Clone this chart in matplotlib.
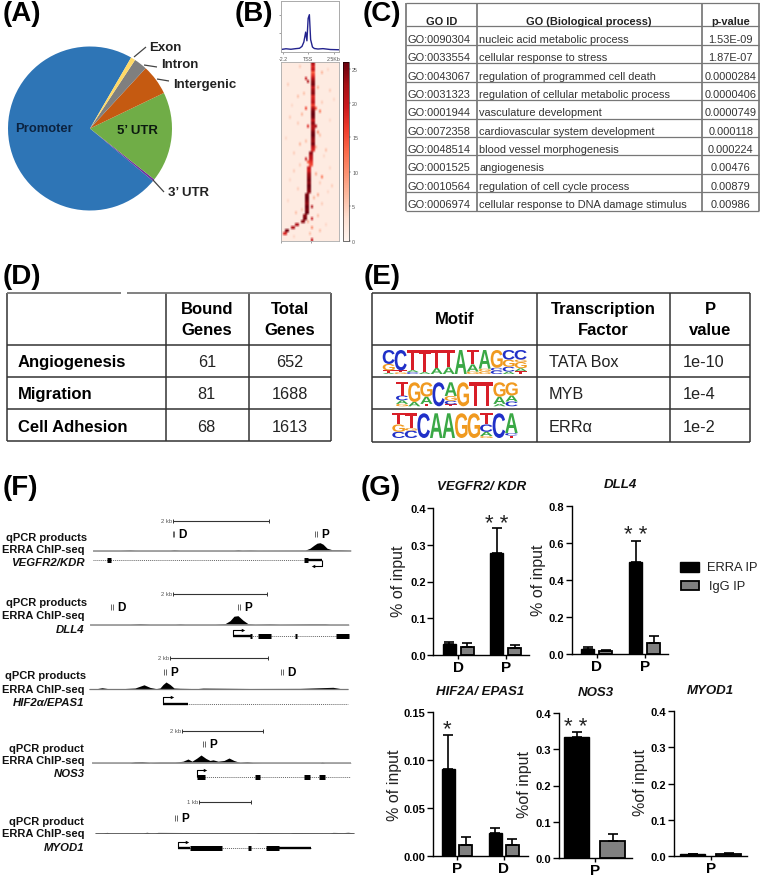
import numpy as np
import matplotlib
matplotlib.use("Agg")
import matplotlib.pyplot as plt
from matplotlib.textpath import TextPath
from matplotlib.patches import PathPatch
from matplotlib.font_manager import FontProperties
from matplotlib.transforms import Affine2D

plt.rcParams['font.family'] = ['Liberation Sans', 'DejaVu Sans']
W, H = 760, 878

# ---------- data ----------
pie_labels = ['Promoter', "3\u2019 UTR", "5\u2019 UTR", 'Intergenic', 'Intron', 'Exon']
pie_values = [72.3, 0.4, 17.8, 6.0, 2.6, 0.9]
pie_colors = ['#2e75b6', '#7030a0', '#70ad47', '#c55a11', '#7f7f7f', '#ffd966']

profile_pos = [-2.2, -1.8, -1.4, -1.0, -0.7, -0.5, -0.35, -0.2, -0.1, 0.0, 0.1, 0.2, 0.35, 0.5, 0.8, 1.2, 1.8, 2.5]
profile_val = [2.0, 2.6, 2.2, 2.7, 3.0, 4.5, 8.0, 16.0, 9.0, 27.0, 30.0, 10.0, 4.0, 2.8, 2.4, 2.7, 2.0, 1.8]

heat_peak_col = [15, 15, 15, 15, 15, 15, 15, 15, 15, 15, 15, 15, 15, 15, 15, 15, 15, 15, 15, 15,
                 15, 15, 15, 15, 15, 15, 15, 15, 15, 15, 14, 14, 14, 14, 14, 13, 13, 13, 13, 13,
                 13, 13, 13, 13, 12, 12, 12, 12, 12, 12, 12, 11, 11, 10, 7, 5, 2, 1, -1, -1]
heat_peak_val = [22, 18, 20, 14, 17, 21, 24, 25, 20, 23, 24, 18, 19, 21, 16, 22, 25, 26, 25, 20,
                 24, 21, 22, 25, 26, 24, 23, 25, 20, 18, 24, 21, 20, 17, 15, 20, 19, 23, 24, 25,
                 24, 26, 25, 24, 25, 26, 25, 24, 26, 25, 26, 24, 25, 24, 22, 22, 25, 18, 0, 0]
heat_spots_row = [5, 6, 15, 15, 16, 21, 21, 22, 23, 32, 33, 38, 48, 52, 59, 3, 11, 27, 44, 55, 9, 18, 29, 36, 41, 50, 57,
                  1, 2, 7, 8, 10, 12, 13, 14, 17, 19, 20, 24, 25, 26, 28, 30, 31, 34, 35, 37, 39, 40, 42, 43, 45, 46, 47, 49, 51, 53, 54, 56, 58]
heat_spots_col = [12, 13, 17, 12, 19, 17, 13, 16, 18, 12, 13, 20, 15, 15, 15, 20, 8, 9, 18, 15, 24, 4, 22, 6, 25, 7, 14,
                  9, 23, 3, 18, 11, 26, 20, 5, 10, 24, 8, 19, 2, 12, 17, 6, 21, 9, 24, 17, 4, 19, 8, 23, 16, 3, 20, 10, 18, 13, 22, 19, 6]
heat_spots_val = [20, 22, 14, 16, 12, 22, 18, 16, 10, 20, 14, 12, 22, 20, 20, 7, 6, 7, 8, 10, 5, 5, 6, 5, 5, 6, 6,
                  5, 4, 5, 7, 6, 4, 5, 4, 7, 4, 5, 6, 4, 6, 7, 5, 4, 5, 4, 8, 4, 5, 5, 4, 7, 4, 5, 5, 6, 7, 4, 6, 4]
cbar_ticks = [0, 5, 10, 15, 20, 25]

go_header = ['GO ID', 'GO (Biological process)', 'p-value']
go_ids = ['GO:0090304', 'GO:0033554', 'GO:0043067', 'GO:0031323', 'GO:0001944',
          'GO:0072358', 'GO:0048514', 'GO:0001525', 'GO:0010564', 'GO:0006974']
go_terms = ['nucleic acid metabolic process', 'cellular response to stress',
            'regulation of programmed cell death', 'regulation of cellular metabolic process',
            'vasculature development', 'cardiovascular system development',
            'blood vessel morphogenesis', 'angiogenesis', 'regulation of cell cycle process',
            'cellular response to DNA damage stimulus']
go_pvals = ['1.53E-09', '1.87E-07', '0.0000284', '0.0000406', '0.0000749',
            '0.000118', '0.000224', '0.00476', '0.00879', '0.00986']

d_rows = ['Angiogenesis', 'Migration', 'Cell Adhesion']
d_bound = ['61', '81', '68']
d_total = ['652', '1688', '1613']
e_tf = ['TATA Box', 'MYB', 'ERR\u03b1']
e_p = ['1e-10', '1e-4', '1e-2']

motif_tata = [[('A', .05), ('T', .1), ('G', .27), ('C', .58)], [('G', .07), ('T', .08), ('C', .85)],
              [('C', .08), ('A', .08), ('T', .84)], [('A', .08), ('T', .92)], [('A', .25), ('T', .75)],
              [('A', .28), ('T', .72)], [('A', 1.0)], [('G', .1), ('A', .3), ('T', .6)],
              [('G', .1), ('G', .12), ('A', .78)], [('C', .14), ('C', .12), ('G', .74)],
              [('A', .1), ('C', .2), ('G', .3), ('C', .4)], [('T', .12), ('A', .12), ('G', .26), ('G', .1), ('C', .4)]]
motif_myb = [[('G', .1), ('A', .15), ('C', .2), ('T', .55)], [('A', .18), ('G', .82)],
             [('T', .1), ('A', .3), ('G', .6)], [('C', 1.0)], [('T', .08), ('C', .15), ('G', .2), ('A', .57)],
             [('G', 1.0)], [('T', 1.0)], [('T', 1.0)],
             [('A', .1), ('A', .3), ('G', .6)], [('C', .2), ('A', .25), ('G', .55)]]
motif_err = [[('C', .25), ('G', .3), ('T', .45)], [('C', .3), ('G', .1), ('T', .6)],
             [('C', 1.0)], [('A', 1.0)], [('A', 1.0)], [('G', 1.0)], [('G', 1.0)],
             [('G', .08), ('A', .17), ('C', .3), ('T', .45)], [('C', 1.0)], [('T', .1), ('C', .1), ('A', .8)]]
motif_colors = {'A': '#3aa845', 'C': '#2030c8', 'G': '#f09a20', 'T': '#d81e28'}

vegfr_pos = [93, 120, 130, 135, 140, 170, 174, 180, 234, 238, 242, 250, 258, 305, 310, 314, 317, 320, 323, 327, 332, 340, 351]
vegfr_sig = [0.3, 0.3, 0.8, 0.4, 0.3, 0.3, 0.9, 0.3, 0.3, 0.9, 0.3, 0.6, 0.3, 0.5, 2.5, 5.5, 7.5, 8.0, 6.5, 2.5, 1.0, 1.0, 0.4]
dll4_pos = [90, 130, 140, 150, 175, 180, 185, 215, 225, 230, 234, 238, 243, 248, 255, 270, 280, 310, 325, 330, 349]
dll4_sig = [0.3, 0.3, 1.0, 0.3, 0.3, 0.7, 0.3, 0.3, 1.0, 4.0, 8.5, 9.0, 4.5, 1.0, 0.3, 0.8, 0.3, 0.8, 0.8, 0.3, 0.3]
hif_pos = [89, 97, 102, 108, 125, 135, 144, 150, 156, 160, 163, 166, 170, 174, 180, 197, 203, 250, 300, 333, 340, 348]
hif_sig = [0.3, 0.4, 1.3, 0.4, 0.5, 1.0, 4.2, 1.6, 0.4, 1.0, 4.5, 7.0, 4.5, 1.0, 0.7, 0.4, 0.9, 0.5, 0.6, 1.7, 0.5, 0.3]
nos3_pos = [92, 130, 135, 142, 150, 160, 175, 183, 188, 192, 197, 201, 206, 210, 213, 218, 224, 229, 234, 240, 247, 253, 262, 320, 322, 325, 351]
nos3_sig = [0.2, 0.2, 1.2, 1.5, 0.3, 0.8, 0.8, 1.8, 4.0, 1.8, 5.0, 8.0, 4.5, 2.5, 3.2, 1.8, 2.5, 5.0, 2.5, 0.5, 1.4, 0.4, 0.2, 0.2, 0.8, 0.2, 0.2]
myod_pos = [95, 103, 107, 110, 143, 147, 150, 155, 158, 255, 258, 290, 293, 330, 333, 343, 348, 354]
myod_sig = [0.2, 0.2, 0.6, 0.2, 0.2, 0.7, 0.2, 0.2, 0.6, 0.2, 0.5, 0.2, 0.5, 0.2, 0.6, 0.4, 0.7, 0.2]

vegfr_erra, vegfr_erra_err = [0.028, 0.277], [0.008, 0.068]
vegfr_igg, vegfr_igg_err = [0.021, 0.019], [0.011, 0.008]
dll4_erra, dll4_erra_err = [0.025, 0.498], [0.013, 0.112]
dll4_igg, dll4_igg_err = [0.014, 0.062], [0.008, 0.033]
hif_erra, hif_erra_err = [0.091, 0.024], [0.035, 0.005]
hif_igg, hif_igg_err = [0.012, 0.012], [0.008, 0.006]
nos3_erra, nos3_erra_err = [0.335], [0.012]
nos3_igg, nos3_igg_err = [0.046], [0.019]
myod_erra, myod_erra_err = [0.005], [0.001]
myod_igg, myod_igg_err = [0.006], [0.001]

# ---------- helpers ----------
fig = plt.figure(figsize=(W / 100, H / 100), dpi=100, facecolor='white')


def ax_px(x0, y0, x1, y1, **kw):
    return fig.add_axes([x0 / W, 1 - y1 / H, (x1 - x0) / W, (y1 - y0) / H], **kw)


ov = ax_px(0, 0, W, H)
ov.set_xlim(0, W)
ov.set_ylim(H, 0)
ov.axis('off')
ov.set_zorder(10)


def T(x, y, s, size=10, ha='left', weight='normal', style='normal', color='black', **kw):
    ov.text(x, y, s, fontsize=size, ha=ha, va='center', fontweight=weight, fontstyle=style,
            color=color, **kw)


def L(xs, ys, color='black', lw=1.0, **kw):
    ov.plot(xs, ys, color=color, lw=lw, solid_capstyle='butt', **kw)


# panel letters
for x, y, s in [(3, 14, '(A)'), (235, 14, '(B)'), (363, 14, '(C)'), (3, 277, '(D)'),
                (364, 277, '(E)'), (3, 488, '(F)'), (361, 488, '(G)')]:
    T(x, y, s, size=20, weight='bold')

# ---------- A pie ----------
axp = ax_px(8, 47.5, 172, 211.5)
axp.pie(pie_values, colors=pie_colors, startangle=59.9, radius=1.0, wedgeprops=dict(linewidth=0))
axp.set_xlim(-1, 1)
axp.set_ylim(-1, 1)
for (xa, ya, xb, yb) in [(134, 58, 146, 48), (144, 66, 157, 68), (157, 80, 169, 82), (153, 181, 164, 193)]:
    L([xa, xb], [ya, yb], color='#444444', lw=0.9)
T(149.5, 48, pie_labels[5], size=9.5, weight='bold', color='#222222')
T(161.5, 64.5, pie_labels[4], size=9.5, weight='bold', color='#222222')
T(173, 85, pie_labels[3], size=9.5, weight='bold', color='#222222')
T(137, 131, pie_labels[2], size=9.5, weight='bold', ha='center', color='#0c1a10')
T(15, 129.5, pie_labels[0], size=9.4, weight='bold', color='#0c2340')
T(168, 193, pie_labels[1], size=9.5, weight='bold', color='#222222')

# ---------- B profile and heat map ----------
axb = ax_px(281, 2, 339, 53)
axb.plot(profile_pos, profile_val, color='#23238e', lw=1.0)
axb.set_xlim(-2.2, 2.5)
axb.set_ylim(0, 41)
axb.set_xticks([-2.0, 0, 2.1])
axb.set_xticklabels(['-2.2', 'TSS', '2.5Kb'], fontsize=3.8, color='#555555')
axb.set_yticks([15, 30])
axb.set_yticklabels([])
axb.tick_params(length=1.5, width=0.4, pad=1.5, color='#555555')
for s in axb.spines.values():
    s.set_color('#aaaaaa')
    s.set_linewidth(0.7)

n_rows, n_cols = len(heat_peak_col), 29
heat = np.full((n_rows, n_cols), 1.6)
for r, c, v in zip(heat_spots_row, heat_spots_col, heat_spots_val):
    heat[r, c] = v
for r, (c, v) in enumerate(zip(heat_peak_col, heat_peak_val)):
    if c >= 0:
        heat[r, c] = v
        heat[r, c + 1] = v
axh = ax_px(281, 62.7, 339, 241.7)
im = axh.imshow(heat, cmap='Reds', vmin=0, vmax=26, aspect='auto', interpolation='bilinear')
axh.set_xticks([-0.5, 14.7])
axh.set_xticklabels([])
axh.set_yticks([])
axh.tick_params(length=1.5, width=0.4, color='#555555')
for s in axh.spines.values():
    s.set_color('#aaaaaa')
    s.set_linewidth(0.6)
axc = ax_px(343.3, 62.7, 349, 241.7)
cb = fig.colorbar(im, cax=axc, ticks=cbar_ticks)
cb.ax.tick_params(labelsize=3.8, length=1.2, width=0.3, pad=1, labelcolor='#555555', color='#555555')
cb.outline.set_linewidth(0.4)

# ---------- C table ----------
cx = [406, 477, 702, 759]
cy = [3.5] + [27.3 + 18.44 * i for i in range(11)]
for x in cx:
    L([x, x], [cy[0], cy[-1]], color='#666666', lw=1.1)
for y in cy:
    L([cx[0], cx[-1]], [y, y], color='#777777', lw=0.9)
T(441.7, 21.7, go_header[0], size=7.9, weight='bold', ha='center', color='#222222')
T(589, 21.7, go_header[1], size=7.9, weight='bold', ha='center', color='#222222')
T(730.7, 21.7, go_header[2], size=7.9, weight='bold', ha='center', color='#222222')
for i in range(10):
    yy = 39.8 + 18.37 * i
    T(408, yy, go_ids[i], size=7.9, color='#333333')
    T(479, yy, go_terms[i], size=7.9, color='#333333')
    T(730.7, yy, go_pvals[i], size=7.9, ha='center', color='#333333')

# ---------- D table ----------
dx = [6.7, 165.7, 248.7, 331.3]
dy = [294, 346, 378.3, 410.3, 441.7]
for x in dx:
    L([x, x], [dy[0], dy[-1]], color='#333333', lw=1.1)
for y in dy[1:]:
    L([dx[0], dx[-1]], [y, y], color='#333333', lw=1.1)
L([dx[0], 120.7], [dy[0], dy[0]], color='#777777', lw=1.3)
L([127.3, dx[-1]], [dy[0], dy[0]], color='#777777', lw=1.3)
T(206.7, 310, 'Bound', size=12, weight='bold', ha='center')
T(206.7, 330.7, 'Genes', size=12, weight='bold', ha='center')
T(290, 310, 'Total', size=12, weight='bold', ha='center')
T(290, 330.7, 'Genes', size=12, weight='bold', ha='center')
for i, yy in enumerate([363, 395, 427.3]):
    T(17.7, yy, d_rows[i], size=12, weight='bold')
    T(206.7, yy, d_bound[i], size=11.7, ha='center', color='#222222')
    T(290, yy, d_total[i], size=11.7, ha='center', color='#222222')

# ---------- E table ----------
ex = [372, 536.7, 669.7, 750]
ey = [294, 346, 378.3, 410.3, 443.3]
for x in ex:
    L([x, x], [ey[0], ey[-1]], color='#333333', lw=1.1)
for y in ey:
    L([ex[0], ex[-1]], [y, y], color='#333333', lw=1.1)
T(454.7, 320, 'Motif', size=12, weight='bold', ha='center')
T(603, 310, 'Transcription', size=12, weight='bold', ha='center')
T(603, 330.7, 'Factor', size=12, weight='bold', ha='center')
T(710, 310, 'P', size=12, weight='bold', ha='center')
T(710, 330.7, 'value', size=12, weight='bold', ha='center')
for i, yy in enumerate([363, 395, 427.3]):
    T(548.7, yy, e_tf[i], size=11.7, color='#222222')
    T(682.3, yy, e_p[i], size=11.7, color='#222222')

fp = FontProperties(family='Liberation Sans', weight='bold')


def logo(motif, x0, x1, y0, y1):
    w = (x1 - x0) / len(motif)
    for i, stack in enumerate(motif):
        base = y1
        for letter, frac in stack:
            h = (y1 - y0) * frac
            tp = TextPath((0, 0), letter, size=1, prop=fp)
            bb = tp.get_extents()
            tr = (Affine2D().translate(-bb.x0, -bb.y0).scale(w / bb.width, -h / bb.height)
                  .translate(x0 + i * w, base))
            ov.add_patch(PathPatch(tr.transform_path(tp), fc=motif_colors[letter], lw=0))
            base -= h


logo(motif_tata, 382.7, 526.7, 351, 375)
logo(motif_myb, 396, 517.7, 383.3, 407.3)
logo(motif_err, 392.3, 517.7, 414.3, 439)


# ---------- F tracks ----------
def track(pos, sig, base, color_line='#999999', lw=1.2):
    L([pos[0], pos[-1]], [base, base], color=color_line, lw=lw)
    ov.fill_between(pos, [base] * len(pos), [base - s for s in sig], color='black', lw=0)


def scale(x0, x1, y, label):
    L([x0, x1], [y, y], color='#333333', lw=0.8)
    L([x0, x0], [y - 2, y + 2], color='#333333', lw=0.7)
    L([x1, x1], [y - 2, y + 2], color='#333333', lw=0.7)
    T(x0 - 1, y, label, size=4.2, ha='right', color='#555555')


def primer(x, y, name):
    L([x - 0.8, x - 0.8], [y - 3, y + 3], color='#666666', lw=0.7)
    L([x + 0.8, x + 0.8], [y - 3, y + 3], color='#666666', lw=0.7)
    T(x + 5, y, name, size=8.5, weight='bold')


def gene(x0, x1, y, exons=(), utrs=()):
    ov.plot([x0, x1], [y, y], color='#666666', lw=0.7, ls=(0, (1, 1)))
    for a, b in utrs:
        L([a, b], [y, y], color='black', lw=1.7)
    for a, b in exons:
        L([a, b], [y, y], color='black', lw=3.6)


def tss(x, y0, y1, x1):
    L([x, x, x1], [y0, y1, y1], color='black', lw=0.8)
    ov.plot([x1], [y1], marker='>' if x1 > x else '<', ms=2.5, color='black', mew=0)


def labels(y1, y2, y3, first, name, right=87):
    T(right, y1, first, size=8.0, weight='bold', ha='right', color='#111111')
    T(84.5, y2, 'ERRA ChIP-seq', size=8.0, weight='bold', ha='right', color='#111111')
    T(84.5, y3, name, size=8.2, weight='bold', style='italic', ha='right', color='#111111')


labels(538, 550, 563, 'qPCR products', 'VEGFR2/KDR')
scale(173, 269, 522, '2 kb')
primer(173.5, 535, 'D')
primer(316, 535, 'P')
track(vegfr_pos, vegfr_sig, 551.7)
gene(93, 305, 560.7, exons=[(107, 110.5), (304, 308)], utrs=[(308, 322)])
L([322, 322, 313], [560.7, 566.7, 566.7], color='black', lw=0.8)
ov.plot([313], [566.7], marker='<', ms=2.5, color='black', mew=0)

labels(603, 616, 630, 'qPCR products', 'DLL4')
scale(172.7, 267, 595, '2 kb')
primer(112, 608, 'D')
primer(239, 608, 'P')
track(dll4_pos, dll4_sig, 625.7)
gene(233, 349, 637, exons=[(250, 252), (258, 271), (295, 297), (336, 349)], utrs=[(233, 252)])
tss(233, 637, 631, 243)

labels(676, 690, 703, 'qPCR products', 'HIF2\u03b1/EPAS1', right=86)
scale(170, 268, 659, '2 kb')
primer(165, 673, 'P')
primer(282, 673, 'D')
track(hif_pos, hif_sig, 690, color_line='#777777', lw=0.9)
gene(163, 348, 705, utrs=[(163, 188)])
tss(163, 705, 698, 172)

labels(749, 761, 774, 'qPCR product', 'NOS3', right=83.5)
scale(182, 263, 732, '2 kb')
primer(204, 745, 'P')
track(nos3_pos, nos3_sig, 764)
gene(197, 350, 778, exons=[(197, 205), (255, 260), (304, 310), (319, 325)])
tss(197, 778, 771, 205)

labels(822, 834, 848, 'qPCR product', 'MYOD1', right=84)
scale(199, 251, 803, '1 kb')
primer(176, 819, 'P')
track(myod_pos, myod_sig, 834, color_line='#555555', lw=0.6)
gene(178, 311, 849, exons=[(190, 222), (248, 251), (266, 279)], utrs=[(178, 190), (279, 311)])
tss(178, 849, 843, 187)


# ---------- G bars ----------
def bars(rect, ylim, yticks, ticklabels, first, bstep, gstep, width, cats, erra, eerr, igg, ierr):
    x0, ytop, x1, ybot = rect
    ax = ax_px(x0, ytop, x1, ybot)
    ax.patch.set_alpha(0)
    ax.set_xlim(x0, x1)
    ax.set_ylim(*ylim)
    centres = []
    for g in range(len(cats)):
        xa = first + g * gstep
        xb = xa + bstep
        centres.append((xa + xb) / 2)
        ax.bar(xa, erra[g], width=width, color='black', edgecolor='black', lw=1.0)
        ax.bar(xb, igg[g], width=width, color='#808080', edgecolor='black', lw=1.3)
        ax.errorbar(xa, erra[g], yerr=[[0], [eerr[g]]], color='black', capsize=min(width * 0.26, 3.4), lw=1.2, capthick=1.2)
        ax.errorbar(xb, igg[g], yerr=[[0], [ierr[g]]], color='black', capsize=min(width * 0.26, 3.4), lw=1.2, capthick=1.2)
    for s in ['top', 'right']:
        ax.spines[s].set_visible(False)
    for s in ['left', 'bottom']:
        ax.spines[s].set_linewidth(1.0)
    ax.set_yticks(yticks)
    ax.set_yticklabels(ticklabels, fontsize=8, fontweight='bold')
    ax.set_xticks(centres)
    ax.set_xticklabels(cats, fontsize=11, fontweight='bold')
    ax.tick_params(axis='y', length=4, width=1.0, pad=1.5)
    ax.tick_params(axis='x', length=3, width=1.0, pad=0.5)
    return ax


bars((433.3, 509.3, 529, 655.7), (0, 0.4), [0, .1, .2, .3, .4], ['0.0', '0.1', '0.2', '0.3', '0.4'],
     449.2, 17.8, 47.7, 13, ['D', 'P'], vegfr_erra, vegfr_erra_err, vegfr_igg, vegfr_igg_err)
bars((571.7, 506.7, 668, 655), (0, 0.8), [0, .2, .4, .6, .8], ['0.0', '0.2', '0.4', '0.6', '0.8'],
     587.8, 17.8, 48, 12.8, ['D', 'P'], dll4_erra, dll4_erra_err, dll4_igg, dll4_igg_err)
bars((433.3, 713.3, 527.7, 857.3), (0, 0.15), [0, .05, .10, .15], ['0.00', '0.05', '0.10', '0.15'],
     448.2, 17.3, 46.8, 13, ['P', 'D'], hif_erra, hif_erra_err, hif_igg, hif_igg_err)
bars((559, 714.3, 632.3, 858.7), (0, 0.4), [0, .1, .2, .3, .4], ['0.0', '0.1', '0.2', '0.3', '0.4'],
     576.7, 35.8, 0, 25, ['P'], nos3_erra, nos3_erra_err, nos3_igg, nos3_igg_err)
bars((674, 712.3, 746.7, 857), (0, 0.4), [0, .1, .2, .3, .4], ['0.0', '0.1', '0.2', '0.3', '0.4'],
     692.5, 36.3, 0, 25, ['P'], myod_erra, myod_erra_err, myod_igg, myod_igg_err)

for x, y, s in [(399, 581.7, '% of input'), (538, 580, '% of input'), (394, 785, '% of input'),
                (524, 785, '%of input'), (640, 783, '%of input')]:
    T(x, y, s, size=11.5, ha='center', rotation=90, color='#222222')
for x, y, s in [(481.7, 486.7, 'VEGFR2/ KDR'), (620.7, 485, 'DLL4'), (480, 692, 'HIF2A/ EPAS1'),
                (595.7, 693, 'NOS3'), (710, 690.7, 'MYOD1')]:
    T(x, y, s, size=9.5, weight='bold', style='italic', ha='center', color='#111111')
for x, y, s in [(496.7, 525, '* *'), (636, 536, '* *'), (447, 730, '*'), (576, 728, '* *')]:
    T(x, y, s, size=16, ha='center', color='#222222')

ov.add_patch(plt.Rectangle((680, 562.7), 19.3, 10, fc='black', ec='black', lw=1))
ov.add_patch(plt.Rectangle((681, 581.7), 18.3, 9, fc='#808080', ec='black', lw=1.3))
T(707, 567.7, 'ERRA IP', size=9.3, color='#222222')
T(708.7, 586.7, 'IgG IP', size=9.3, color='#222222')

fig.savefig('out.png', dpi=100)
